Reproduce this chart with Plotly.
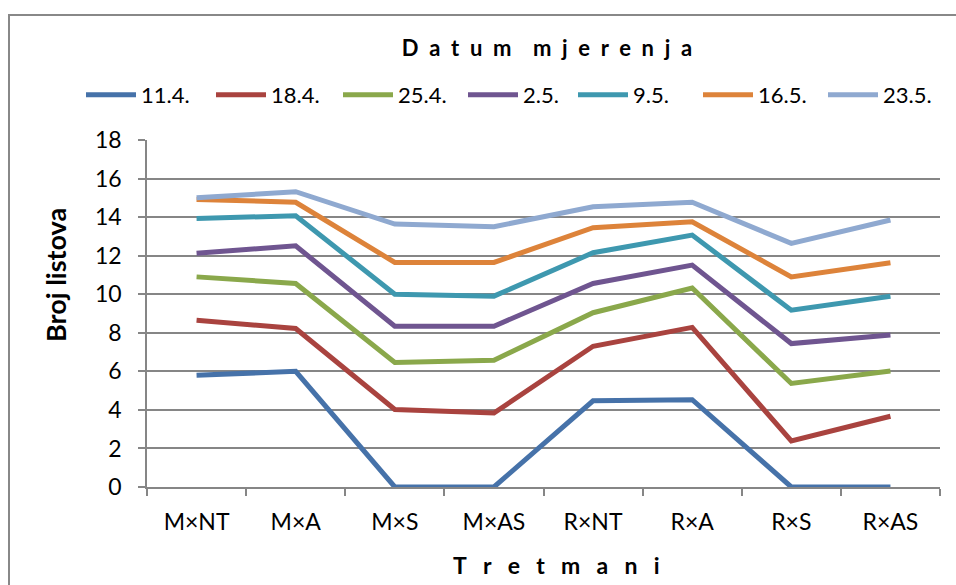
import plotly.graph_objects as go

categories = ["M×NT", "M×A", "M×S", "M×AS", "R×NT", "R×A", "R×S", "R×AS"]
series_names = ["11.4.", "18.4.", "25.4.", "2.5.", "9.5.", "16.5.", "23.5."]
s_11_4 = [5.8, 6.0, 0, 0, 4.47, 4.53, 0, 0]
s_18_4 = [8.65, 8.22, 4.02, 3.84, 7.3, 8.28, 2.39, 3.67]
s_25_4 = [10.9, 10.56, 6.46, 6.58, 9.04, 10.32, 5.37, 6.02]
s_2_5 = [12.12, 12.51, 8.34, 8.34, 10.56, 11.51, 7.44, 7.89]
s_9_5 = [13.93, 14.07, 10.0, 9.9, 12.15, 13.07, 9.17, 9.9]
s_16_5 = [14.92, 14.77, 11.65, 11.65, 13.45, 13.76, 10.9, 11.63]
s_23_5 = [15.0, 15.32, 13.64, 13.5, 14.54, 14.77, 12.64, 13.85]
y_ticks = [0, 2, 4, 6, 8, 10, 12, 14, 16, 18]

series = [s_11_4, s_18_4, s_25_4, s_2_5, s_9_5, s_16_5, s_23_5]
colors = ["#4672A9", "#A9433F", "#8AA84B", "#6F5590", "#3E98AF", "#DD833A", "#8FA9D0"]

FONT = "Lato, 'Open Sans', 'Liberation Sans', sans-serif"
GRID = "rgb(134,134,134)"

W, H = 956, 585
L, R, T, B = 147, 940, 140, 487
# pixel x where each legend entry's line sample starts (layout only)
legend_px = [88, 218, 345, 470, 580, 705, 830]


def spaced(word, gap):
    return gap.join(list(word))


title_text = spaced("Datum", "  ") + "    " + spaced("mjerenja", "  ")
xtitle_text = spaced("Tretmani", "\u2007\u2009")

fig = go.Figure()
legend_layouts = {}
for i, (name, vals, col) in enumerate(zip(series_names, series, colors)):
    key = "legend" if i == 0 else f"legend{i + 1}"
    fig.add_trace(go.Scatter(
        x=categories, y=vals, name=name, mode="lines",
        line=dict(color=col, width=5),
        legend=key,
    ))
    legend_layouts[key] = dict(
        orientation="h",
        xref="container", yref="container",
        x=(legend_px[i] - 7) / W, xanchor="left",
        y=1 - 95 / H, yanchor="middle",
        font=dict(family=FONT, size=22, color="black"),
        itemwidth=50,
        bgcolor="rgba(0,0,0,0)",
    )

fig.update_layout(
    width=W, height=H,
    margin=dict(l=L, r=W - R, t=T, b=H - B, autoexpand=False),
    paper_bgcolor="white", plot_bgcolor="white",
    font=dict(family=FONT, size=22, color="black"),
    title=dict(
        text="<b>" + title_text + "</b>",
        font=dict(family=FONT, size=22, color="black"),
        x=547 / W, xref="container", xanchor="center",
        y=1 - 48 / H, yref="container", yanchor="middle",
    ),
    showlegend=True,
    **legend_layouts,
)

fig.update_xaxes(
    type="category", range=[-0.5, 7.5],
    showline=True, linecolor=GRID, linewidth=1.5,
    ticks="outside", tickson="boundaries", ticklen=7, tickcolor=GRID, tickwidth=1.5,
    showgrid=False, zeroline=False,
    tickfont=dict(family=FONT, size=23, color="black"),
    ticklabelstandoff=14,
)
fig.update_yaxes(
    range=[0, 18], tickvals=y_ticks,
    showline=True, linecolor=GRID, linewidth=1.5,
    ticks="outside", ticklen=7, tickcolor=GRID, tickwidth=1.5,
    showgrid=True, gridcolor=GRID, gridwidth=1.5,
    zeroline=False,
    tickfont=dict(family=FONT, size=23, color="black"),
    ticklabelstandoff=12,
)

pw, ph = R - L, B - T
fig.add_shape(
    type="rect", xref="paper", yref="paper", layer="below",
    x0=(9 - L) / pw, x1=(W + 10 - L) / pw,
    y0=(B - (H + 10)) / ph, y1=(B - 15) / ph,
    line=dict(color="rgb(136,136,136)", width=2), fillcolor="rgba(0,0,0,0)",
)

fig.add_annotation(
    text="<b>" + xtitle_text + "</b>",
    xref="paper", yref="paper", x=(556 - L) / pw, y=(B - 565) / ph,
    xanchor="center", yanchor="middle", showarrow=False,
    font=dict(family=FONT, size=23, color="black"),
)
fig.add_annotation(
    text="<b>Broj listova</b>",
    xref="paper", yref="paper", x=(55 - L) / pw, y=(B - 275) / ph,
    xanchor="center", yanchor="middle", showarrow=False, textangle=-90,
    font=dict(family=FONT, size=27, color="black"),
)

fig.write_html(
    "out.html",
    config={"displayModeBar": False},
    post_script="document.body.style.margin='0';document.body.style.overflow='hidden';",
)
